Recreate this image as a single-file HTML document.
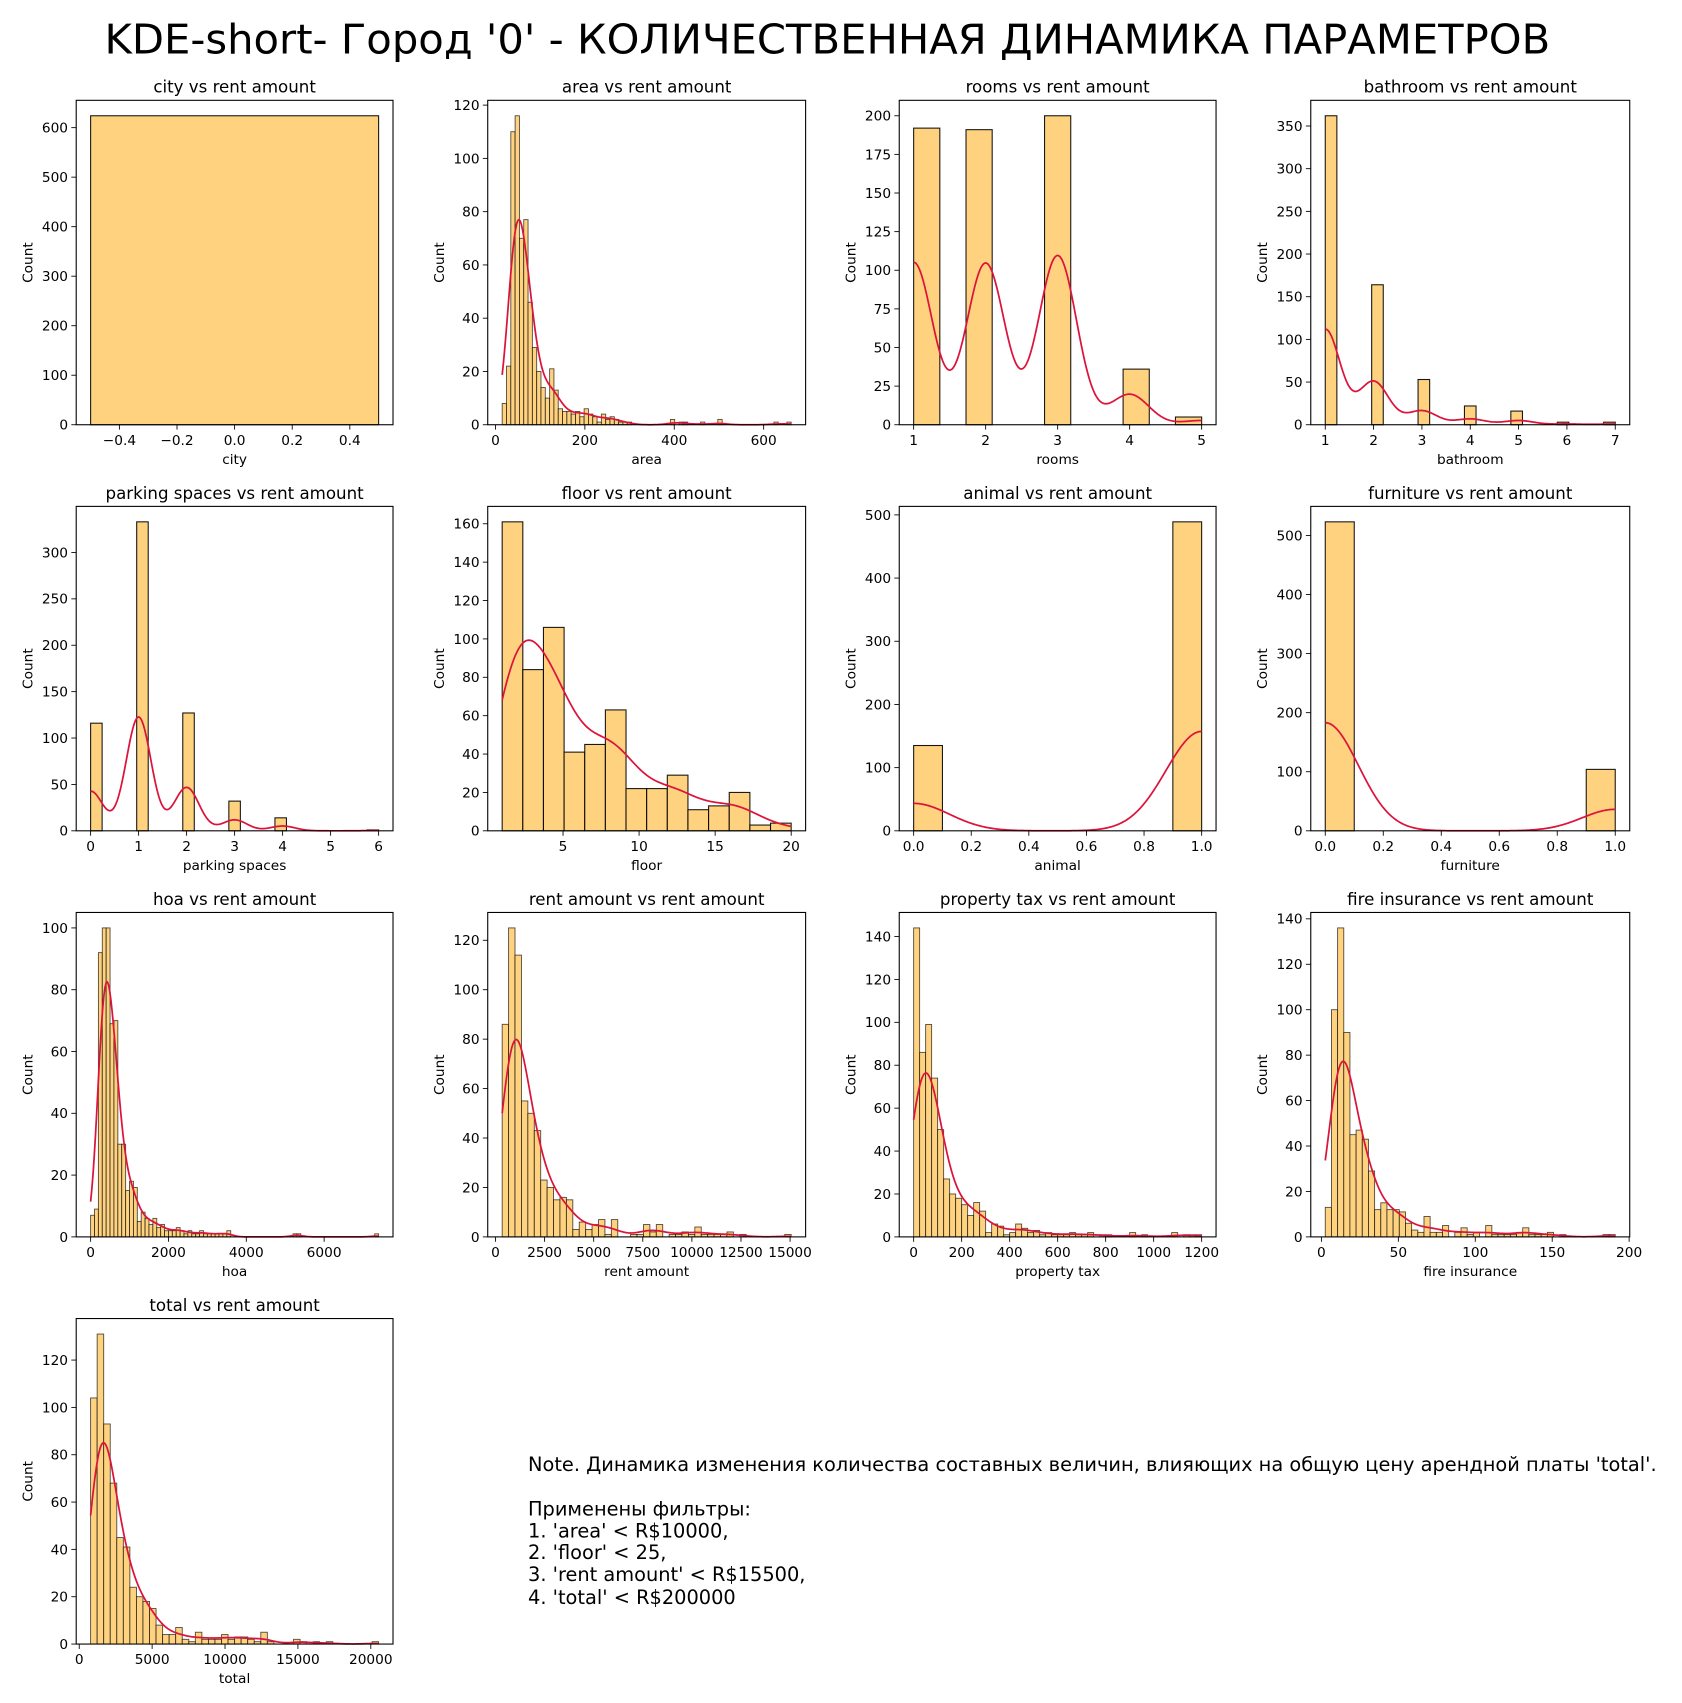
<!DOCTYPE html>
<html><head><meta charset="utf-8"><style>
html,body{margin:0;padding:0;background:#fff;}
svg{display:block;font-family:"DejaVu Sans","Liberation Sans",sans-serif;}
</style></head><body>
<svg id="fig" xmlns="http://www.w3.org/2000/svg" width="1682" height="1703" viewBox="0 0 1545 1564">
<rect width="1545" height="1564" fill="#fff"/>
<text x="760" y="49" font-size="38" text-anchor="middle" textLength="1328" lengthAdjust="spacingAndGlyphs">KDE-short- Город '0' - КОЛИЧЕСТВЕННАЯ ДИНАМИКА ПАРАМЕТРОВ</text>
<g id="plots"></g>
<g font-size="17.8">
<text x="485" y="1351">Note. Динамика изменения количества составных величин, влияющих на общую цену арендной платы 'total'.</text>
<text x="485" y="1392">Применены фильтры:</text>
<text x="485" y="1412">1. 'area' &lt; R$10000,</text>
<text x="485" y="1432">2. 'floor' &lt; 25,</text>
<text x="485" y="1452">3. 'rent amount' &lt; R$15500,</text>
<text x="485" y="1473">4. 'total' &lt; R$200000</text>
</g>
</svg>
<script>
// ---- data ----
const cityValues=[0]; const cityCounts=[624];
const cityXTicks=[-0.4,-0.2,0,0.2,0.4]; const cityYTicks=[0,100,200,300,400,500,600];
const areaBinStart=15; const areaBinWidth=9.65;
const areaCounts=[8,22,110,116,70,77,46,29,20,14,10,21,13,6,5,5,4,5,3,6,4,3,1,4,2,3,2,1,1,1,0,0,0,0,0,0,0,0,0,2,0,1,1,0,0,0,1,0,0,0,2,0,0,0,0,0,0,0,0,0,0,0,0,1,0,0,1];
const areaXTicks=[0,200,400,600]; const areaYTicks=[0,20,40,60,80,100,120];
const roomsValues=[1,2,3,4,5]; const roomsCounts=[192,191,200,36,5];
const roomsXTicks=[1,2,3,4,5]; const roomsYTicks=[0,25,50,75,100,125,150,175,200];
const bathValues=[1,2,3,4,5,6,7]; const bathCounts=[362,164,53,22,16,3,3];
const bathXTicks=[1,2,3,4,5,6,7]; const bathYTicks=[0,50,100,150,200,250,300,350];
const parkValues=[0,1,2,3,4,5,6]; const parkCounts=[116,333,127,32,14,0,1];
const parkXTicks=[0,1,2,3,4,5,6]; const parkYTicks=[0,50,100,150,200,250,300];
const floorBinStart=1; const floorBinWidth=1.357;
const floorCounts=[161,84,106,41,45,63,22,22,29,11,13,20,3,4];
const floorXTicks=[5,10,15,20]; const floorYTicks=[0,20,40,60,80,100,120,140,160];
const animalValues=[0,1]; const animalCounts=[135,489];
const animalXTicks=[0,0.2,0.4,0.6,0.8,1.0]; const animalYTicks=[0,100,200,300,400,500];
const furnValues=[0,1]; const furnCounts=[523,104];
const furnXTicks=[0,0.2,0.4,0.6,0.8,1.0]; const furnYTicks=[0,100,200,300,400,500];
const hoaBinStart=0; const hoaBinWidth=100;
const hoaCounts=[7,9,92,100,100,69,70,30,30,15,18,16,5,8,6,4,6,3,4,2,2,2,3,2,1,2,1,1,2,1,1,1,1,1,1,2,0,0,0,0,0,0,0,0,0,0,0,0,0,0,0,0,1,1,0,0,0,0,0,0,0,0,0,0,0,0,0,0,0,0,0,0,0,1];
const hoaXTicks=[0,2000,4000,6000]; const hoaYTicks=[0,20,40,60,80,100];
const rentBinStart=340; const rentBinWidth=327;
const rentCounts=[86,125,114,55,50,43,23,20,15,16,15,3,6,3,5,7,1,7,0,0,1,1,5,2,5,0,1,1,2,1,4,1,1,1,1,2,0,1,0,0,0,0,0,0,1];
const rentXTicks=[0,2500,5000,7500,10000,12500,15000]; const rentYTicks=[0,20,40,60,80,100,120];
const ptaxBinStart=0; const ptaxBinWidth=25;
const ptaxCounts=[144,86,99,74,50,27,20,18,15,10,16,12,2,6,5,1,2,6,4,2,3,1,2,1,1,1,2,1,1,2,0,1,1,0,0,0,2,0,1,0,0,0,0,2,0,1,1,1];
const ptaxXTicks=[0,200,400,600,800,1000,1200]; const ptaxYTicks=[0,20,40,60,80,100,120,140];
const fireBinStart=2.5; const fireBinWidth=4.01;
const fireCounts=[13,100,136,90,45,47,43,29,12,15,12,12,11,6,3,2,9,2,2,5,0,2,4,1,2,0,5,1,1,1,1,2,4,1,1,1,2,0,1,0,0,0,0,0,0,1,1];
const fireXTicks=[0,50,100,150,200]; const fireYTicks=[0,20,40,60,80,100,120,140];
const totalBinStart=780; const totalBinWidth=449;
const totalCounts=[104,131,93,68,45,41,24,20,18,15,8,4,4,7,2,1,5,2,2,2,4,2,3,3,2,1,5,1,0,0,0,2,1,0,1,0,1,0,0,0,0,0,0,1];
const totalXTicks=[0,5000,10000,15000,20000]; const totalYTicks=[0,20,40,60,80,100,120];

// ---- layout (styles/positions) ----
const COLS=[[70,361],[448,740],[826,1117],[1204,1497]];
const ROWS=[[92,390],[465,763],[838,1136],[1211,1510]];
const plots=[
 {key:'city',title:'city vs rent amount',xl:'city',r:0,c:0,disc:true,vals:cityValues,cnt:cityCounts,nb:1,lo:-0.5,hi:0.5,kde:false,xt:cityXTicks,yt:cityYTicks,dec:1},
 {key:'area',title:'area vs rent amount',xl:'area',r:0,c:1,bs:areaBinStart,bw:areaBinWidth,cnt:areaCounts,h:17,xt:areaXTicks,yt:areaYTicks},
 {key:'rooms',title:'rooms vs rent amount',xl:'rooms',r:0,c:2,disc:true,vals:roomsValues,cnt:roomsCounts,nb:11,h:0.265,xt:roomsXTicks,yt:roomsYTicks},
 {key:'bathroom',title:'bathroom vs rent amount',xl:'bathroom',r:0,c:3,disc:true,vals:bathValues,cnt:bathCounts,nb:25,h:0.31,xt:bathXTicks,yt:bathYTicks},
 {key:'parking',title:'parking spaces vs rent amount',xl:'parking spaces',r:1,c:0,disc:true,vals:parkValues,cnt:parkCounts,nb:25,h:0.26,xt:parkXTicks,yt:parkYTicks},
 {key:'floor',title:'floor vs rent amount',xl:'floor',r:1,c:1,bs:floorBinStart,bw:floorBinWidth,cnt:floorCounts,h:1.45,xt:floorXTicks,yt:floorYTicks},
 {key:'animal',title:'animal vs rent amount',xl:'animal',r:1,c:2,disc:true,vals:animalValues,cnt:animalCounts,nb:10,h:0.124,xt:animalXTicks,yt:animalYTicks,dec:1},
 {key:'furniture',title:'furniture vs rent amount',xl:'furniture',r:1,c:3,disc:true,vals:furnValues,cnt:furnCounts,nb:10,h:0.114,xt:furnXTicks,yt:furnYTicks,dec:1},
 {key:'hoa',title:'hoa vs rent amount',xl:'hoa',r:2,c:0,bs:hoaBinStart,bw:hoaBinWidth,cnt:hoaCounts,h:150,xt:hoaXTicks,yt:hoaYTicks},
 {key:'rent',title:'rent amount vs rent amount',xl:'rent amount',r:2,c:1,bs:rentBinStart,bw:rentBinWidth,cnt:rentCounts,h:580,xt:rentXTicks,yt:rentYTicks},
 {key:'ptax',title:'property tax vs rent amount',xl:'property tax',r:2,c:2,bs:ptaxBinStart,bw:ptaxBinWidth,cnt:ptaxCounts,h:48,xt:ptaxXTicks,yt:ptaxYTicks},
 {key:'fire',title:'fire insurance vs rent amount',xl:'fire insurance',r:2,c:3,bs:fireBinStart,bw:fireBinWidth,cnt:fireCounts,h:7.3,xt:fireXTicks,yt:fireYTicks},
 {key:'total',title:'total vs rent amount',xl:'total',r:3,c:0,bs:totalBinStart,bw:totalBinWidth,cnt:totalCounts,h:720,xt:totalXTicks,yt:totalYTicks}
];
const NS='http://www.w3.org/2000/svg';
function mk(tag,attrs,parent){const e=document.createElementNS(NS,tag);for(const k in attrs)e.setAttribute(k,attrs[k]);if(parent)parent.appendChild(e);return e;}
function fmt(v,dec){let s=dec?v.toFixed(dec):String(Math.round(v));if(v<0)s='\u2212'+s.slice(1);return s;}
const root=document.getElementById('plots');
plots.forEach(p=>{
  const [L,R]=COLS[p.c],[T,B]=ROWS[p.r];
  const g=mk('g',{},root);
  
  
  let bars=[];
  if(p.disc){
    const lo=p.lo!==undefined?p.lo:Math.min(...p.vals), hi=p.hi!==undefined?p.hi:Math.max(...p.vals);
    const w=(hi-lo)/p.nb; p.w=w; p.dmin=Math.min(...p.vals); p.dmax=Math.max(...p.vals);
    p.vals.forEach((v,i)=>{let idx=Math.min(Math.floor((v-lo)/w+1e-9),p.nb-1);bars.push([lo+idx*w,lo+(idx+1)*w,p.cnt[i]]);});
    p.lo2=lo;p.hi2=hi;
  } else {
    p.w=p.bw;
    p.cnt.forEach((c,i)=>bars.push([p.bs+i*p.bw,p.bs+(i+1)*p.bw,c]));
    p.lo2=p.bs;p.hi2=p.bs+p.cnt.length*p.bw;p.dmin=p.lo2;p.dmax=p.hi2;
  }
  const span=p.hi2-p.lo2, x0=p.lo2-span*0.05, x1=p.hi2+span*0.05;
  const ymax=Math.max(...bars.map(b=>b[2]))*1.05;
  const X=v=>L+(v-x0)/(x1-x0)*(R-L), Y=v=>B-v/ymax*(B-T);
  bars.forEach((b,i)=>{if(b[2]<=0)return;
    const r=mk('rect',{x:X(b[0]),y:Y(b[2]),width:X(b[1])-X(b[0]),height:B-Y(b[2]),fill:'#ffd27f',stroke:'#000','stroke-opacity':p.disc||p.cnt.length<20?0.9:0.7,'stroke-width':p.disc||p.cnt.length<20?1:0.8},g);
    
    
  });
  if(p.kde!==false){
    const pts=p.disc?p.vals.map((v,i)=>[v,p.cnt[i]]):p.cnt.map((c,i)=>[p.bs+(i+0.5)*p.bw,c]);
    let d='';const n=240;
    for(let k=0;k<=n;k++){const x=p.dmin+(p.dmax-p.dmin)*k/n;let s=0;
      pts.forEach(([c,cn])=>{const z=(x-c)/p.h;s+=cn*Math.exp(-0.5*z*z)/(p.h*Math.sqrt(2*Math.PI));});
      const yv=s*p.w; d+=(k?'L':'M')+X(x).toFixed(2)+','+Y(yv).toFixed(2);}
    const path=mk('path',{d:d,fill:'none',stroke:'#dc143c','stroke-width':1.6},g);
    
    
  }
  const fr=mk('rect',{x:L,y:T,width:R-L,height:B-T,fill:'none',stroke:'#000','stroke-width':1},g);
  
  
  const xg=mk('g',{'font-size':12.6,'text-anchor':'middle'},g);
  
  
  p.xt.forEach(v=>{const x=X(v);mk('line',{x1:x,x2:x,y1:B,y2:B+4.5,stroke:'#000','stroke-width':0.8},xg);
    const t=mk('text',{x:x,y:B+18.5},xg);t.textContent=fmt(v,p.dec);});
  const yg=mk('g',{'font-size':12.6,'text-anchor':'end'},g);
  
  
  p.yt.forEach(v=>{const y=Y(v);mk('line',{x1:L-4.5,x2:L,y1:y,y2:y,stroke:'#000','stroke-width':0.8},yg);
    const t=mk('text',{x:L-7.5,y:y+4.5},yg);t.textContent=fmt(v,0);});
  const tt=mk('text',{x:(L+R)/2,y:T-7,'font-size':15.3,'text-anchor':'middle'},g);tt.textContent=p.title;
  
  
  const xl=mk('text',{x:(L+R)/2,y:B+36,'font-size':12.6,'text-anchor':'middle'},g);xl.textContent=p.xl;
  
  
  const cy=(T+B)/2, cx=L-40;
  const yl=mk('text',{x:cx,y:cy,'font-size':12.6,'text-anchor':'middle',transform:'rotate(-90 '+cx+' '+cy+')'},g);yl.textContent='Count';
  
  
});
</script>
</body></html>
